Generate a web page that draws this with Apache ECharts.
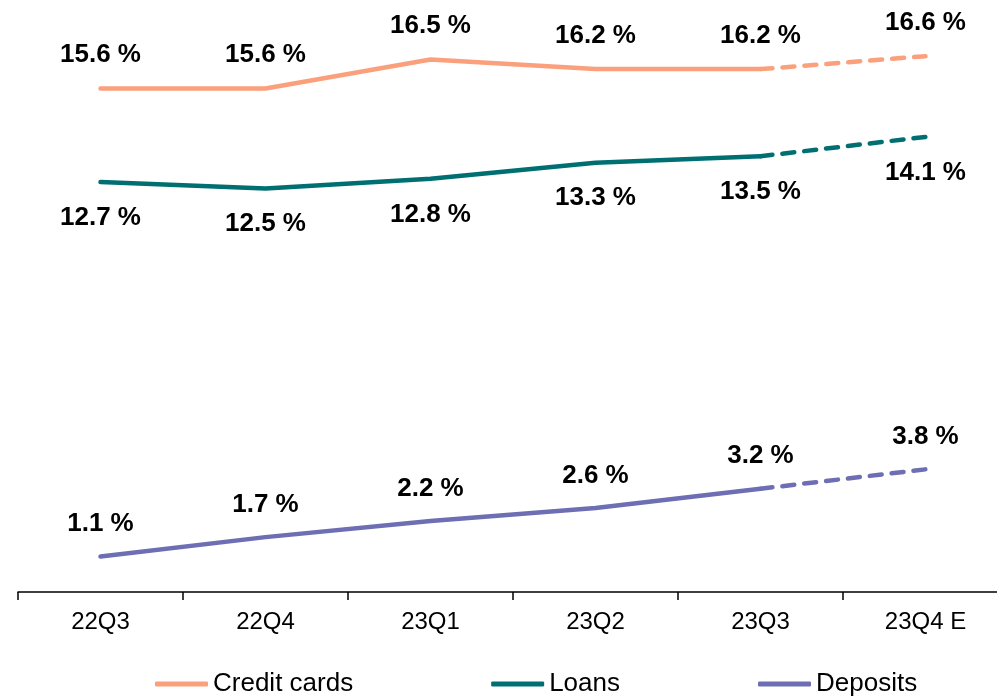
<!DOCTYPE html>
<html>
<head>
<meta charset="utf-8">
<script src="https://cdn.jsdelivr.net/npm/echarts@6/dist/echarts.min.js"></script>
<style>
  html, body { margin: 0; padding: 0; background: #fff; overflow: hidden; }
  #chart { width: 1008px; height: 696px; }
</style>
</head>
<body>
<div id="chart"></div>
<script>
// 季度
var quarters = ['22Q3', '22Q4', '23Q1', '23Q2', '23Q3', '23Q4 E'];
// 各产品利率 (%)
var creditCards = [15.6, 15.6, 16.5, 16.2, 16.2, 16.6];
var loans = [12.7, 12.5, 12.8, 13.3, 13.5, 14.1];
var deposits = [1.1, 1.7, 2.2, 2.6, 3.2, 3.8];

var FONT = '"Liberation Sans", Arial, sans-serif';

// 实线部分: 前五个季度
function solidPart(values){
    return values.slice(0, 5);
}
// 虚线部分: 最后两个季度, 只给最后一点加标签
function dashedPart(values){
    return values.map(function(v, i){
        if (i < 4) return null;
        return { value: v, label: { show: i === 5 } };
    });
}

function makeSeries(name, values, color, labelPos, dist){
    var label = {
        show: true,
        position: labelPos,
        distance: dist,
        formatter: function(p){ return p.value.toFixed(1) + ' %'; },
        fontFamily: FONT,
        fontSize: 26,
        lineHeight: 26,
        fontWeight: 'bold',
        color: '#000'
    };
    var base = {
        name: name,
        type: 'line',
        symbol: 'circle',
        symbolSize: 1,
        itemStyle: { color: color },
        silent: true,
        animation: false
    };
    var solid = Object.assign({}, base, {
        data: solidPart(values),
        lineStyle: { color: color, width: 4.5, cap: 'round', join: 'round' },
        label: label
    });
    var dashed = Object.assign({}, base, {
        data: dashedPart(values),
        lineStyle: { color: color, width: 4.5, type: [12, 10], cap: 'round' },
        label: label
    });
    return [solid, dashed];
}

var chart = echarts.init(document.getElementById('chart'));

var series = []
    .concat(makeSeries('Credit cards', creditCards, '#FBA07C', 'top', 20))
    .concat(makeSeries('Loans', loans, '#006F72', 'bottom', 22))
    .concat(makeSeries('Deposits', deposits, '#6E6EB4', 'top', 19));

var option = {
    backgroundColor: '#fff',
    animation: false,
    grid: {
        left: 18,
        right: 0,
        top: 11,
        bottom: 104
    },
    legend: {
        data: ['Credit cards', 'Loans', 'Deposits'],
        left: 150,
        top: 666,
        icon: 'roundRect',
        itemWidth: 53,
        itemHeight: 5,
        itemGap: 138,
        textStyle: { fontFamily: FONT, fontSize: 26, color: '#000' }
    },
    xAxis: {
        type: 'category',
        data: quarters,
        boundaryGap: true,
        axisLine: { lineStyle: { color: '#000', width: 1.5 } },
        axisTick: { show: true, length: 8, inside: false, lineStyle: { color: '#000', width: 1.5 } },
        axisLabel: { fontFamily: FONT, fontSize: 24, color: '#000', margin: 18 }
    },
    yAxis: {
        type: 'value',
        min: 0,
        max: 18,
        show: false,
        splitLine: { show: false }
    },
    series: series
};

chart.setOption(option);
</script>
</body>
</html>
